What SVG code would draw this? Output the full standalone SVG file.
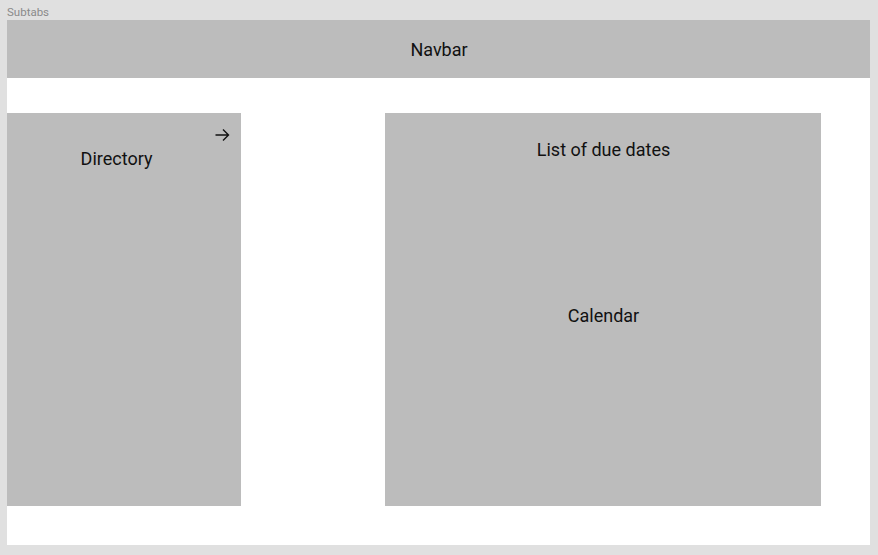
<svg xmlns="http://www.w3.org/2000/svg" width="878" height="555" viewBox="0 0 878 555">
<style>
.box{fill:#bcbcbc}
.lbl{font-family:Roboto,"Liberation Sans",sans-serif;font-size:18px;fill:#111;text-anchor:middle}
</style>
<rect x="0" y="0" width="878" height="555" fill="#e0e0e0"/>
<text x="7" y="16" font-family="Roboto,'Liberation Sans',sans-serif" font-size="11.5" fill="#8a8a8a">Subtabs</text>
<g id="frame"><rect x="7" y="20" width="863" height="525" fill="#ffffff"/></g>
<g id="navbar"><rect class="box" x="7" y="20" width="863" height="58"/><text class="lbl" x="439" y="56">Navbar</text></g>
<g id="directory"><rect class="box" x="7" y="113" width="234" height="393"/><text class="lbl" x="116.5" y="165">Directory</text>
<path d="M215.5 135H228.5M223 129.5L228.5 135L223 140.5" fill="none" stroke="#111" stroke-width="1.4"/></g>
<g id="main"><rect class="box" x="385" y="113" width="436" height="393"/><text class="lbl" x="603.5" y="156">List of due dates</text><text class="lbl" x="603.5" y="322">Calendar</text></g>
<g id="connectors"></g>
</svg>
